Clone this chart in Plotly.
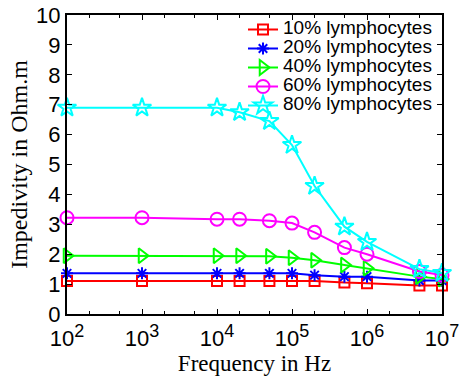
import plotly.graph_objects as go

freq = [1e2, 1e3, 1e4, 2e4, 5e4, 1e5, 2e5, 5e5, 1e6, 5e6, 1e7]
lym10 = [1.10, 1.10, 1.10, 1.10, 1.10, 1.10, 1.10, 1.05, 1.03, 0.95, 0.95]
lym20 = [1.36, 1.36, 1.36, 1.36, 1.36, 1.36, 1.30, 1.25, 1.25, 1.12, 1.12]
lym40 = [1.95, 1.95, 1.95, 1.95, 1.93, 1.88, 1.80, 1.64, 1.53, 1.25, 1.17]
lym60 = [3.22, 3.22, 3.17, 3.17, 3.12, 3.04, 2.73, 2.22, 2.00, 1.42, 1.30]
lym80 = [6.90, 6.90, 6.90, 6.75, 6.45, 5.65, 4.28, 2.92, 2.41, 1.50, 1.37]

names = ["10% lymphocytes", "20% lymphocytes", "40% lymphocytes",
         "60% lymphocytes", "80% lymphocytes"]
series = [lym10, lym20, lym40, lym60, lym80]
colors = ["#ff0000", "#0000ff", "#00ff00", "#ff00ff", "#00ffff"]
symbols = ["square-open", "asterisk-open", "triangle-right-open", "circle-open", "star-open"]
sizes = [10, 10, 13, 13, 14]

xtick_vals = [1e2, 1e3, 1e4, 1e5, 1e6, 1e7]
xtick_exp = ["2", "3", "4", "5", "6", "7"]
xtick_text = ['10<sup><span style="font-size:18px">' + e + '</span></sup>' for e in xtick_exp]

fig = go.Figure()
for nm, ys, c, s, sz in zip(names, series, colors, symbols, sizes):
    fig.add_trace(go.Scatter(
        x=freq, y=ys,
        name='<span style="font-size:19px">' + nm + '</span>',
        mode="lines+markers",
        line=dict(color=c, width=2),
        marker=dict(symbol=s, size=sz, color=c, line=dict(color=c, width=2)),
        cliponaxis=False,
    ))

W, H = 462, 376
ml, mr, mt, mb = 67, 20, 15, 62
pw = W - ml - mr
ph = H - mt - mb

fig.update_layout(
    width=W, height=H,
    margin=dict(l=ml, r=mr, t=mt, b=mb, pad=0, autoexpand=False),
    paper_bgcolor="white", plot_bgcolor="white",
    showlegend=True,
    legend=dict(
        x=(437 - ml) / pw, y=1, xanchor="right", yanchor="top",
        bgcolor="rgba(255,255,255,0)", borderwidth=0,
        font=dict(family="Liberation Sans, Arial", size=12, color="black"),
        tracegroupgap=0,
    ),
    font=dict(family="Liberation Sans, Arial", color="black"),
)

fig.update_xaxes(
    type="log", range=[2, 7], automargin=False,
    tickvals=xtick_vals, ticktext=xtick_text,
    ticks="inside", ticklen=5, tickwidth=1, tickcolor="black",
    ticklabelstandoff=4,
    minor=dict(ticks="inside", ticklen=3, tickcolor="black", showgrid=False),
    showline=True, linecolor="black", linewidth=2, mirror="ticks",
    showgrid=False, zeroline=False,
    tickfont=dict(family="Liberation Sans, Arial", size=22, color="black"),
    title=dict(text="Frequency in Hz", standoff=24,
               font=dict(family="Liberation Serif, Times New Roman", size=23, color="black")),
)
fig.update_yaxes(
    range=[0, 10], dtick=1, automargin=False,
    ticks="inside", ticklen=5, tickwidth=1, tickcolor="black",
    showline=True, linecolor="black", linewidth=2, mirror="ticks",
    showgrid=False, zeroline=False,
    tickfont=dict(family="Liberation Sans, Arial", size=22, color="black"),
    title=dict(text="Impedivity in Ohm.m", standoff=2,
               font=dict(family="Liberation Serif, Times New Roman", size=24, color="black")),
)

fig.add_annotation(
    text="<b>Figure 6</b>", xref="paper", yref="paper",
    x=(22 - ml) / pw, y=(H - mb - 369) / ph,
    xanchor="left", yanchor="top", showarrow=False,
    font=dict(family="Liberation Serif, Times New Roman", size=22, color="black"),
)

fig.write_html("out.html")
